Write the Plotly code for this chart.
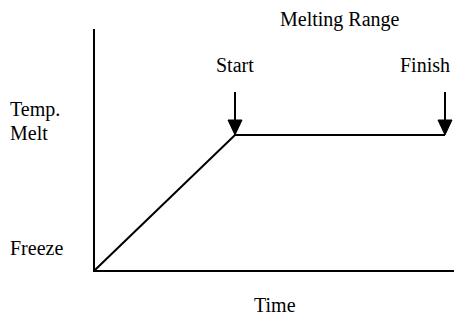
import plotly.graph_objects as go

# ---- data ----
time = [0.0, 1.0, 2.5]          # heating curve time points
temp = [0.0, 1.0, 1.0]          # 0 = Freeze, 1 = Melt
event_labels = ["Start", "Finish"]
event_times = [1.0, 2.5]
y_labels = ["Freeze", "Temp.", "Melt"]

# ---- layout geometry (pixels) ----
W, H = 454, 315
L, B, T = 95, 45, 29          # plot-area margins
PX_X = 140.0                   # pixels per time unit
PX_Y = 135.0                   # pixels per temp unit
PW, PH = W - L, H - B - T
x_max = PW / PX_X
y_max = PH / PX_Y

def px_paper(px):
    return (px - L) / PW

def py_paper(py):
    return (H - B - py) / PH

FONT = dict(family="Liberation Serif", size=20, color="black")

fig = go.Figure()

# heating curve
fig.add_trace(go.Scatter(x=time, y=temp, mode="lines",
                         line=dict(color="black", width=2),
                         hoverinfo="skip", cliponaxis=False))

# arrows marking start / finish of melting range
melt_level = temp[-1]
shaft_len = 43 / PX_Y
head_len = 15 / PX_Y
head_half = 7 / PX_X
for et in event_times:
    fig.add_trace(go.Scatter(x=[et, et], y=[melt_level + shaft_len, melt_level + head_len],
                             mode="lines", line=dict(color="black", width=2),
                             hoverinfo="skip", cliponaxis=False))
    fig.add_trace(go.Scatter(x=[et - head_half, et + head_half, et, et - head_half],
                             y=[melt_level + head_len, melt_level + head_len, melt_level, melt_level + head_len],
                             mode="lines", fill="toself", fillcolor="black",
                             line=dict(color="black", width=1),
                             hoverinfo="skip", cliponaxis=False))

def ann(x, y, text, xanchor):
    return dict(x=x, y=y, xref="paper", yref="paper", text=text, showarrow=False,
                xanchor=xanchor, yanchor="middle", font=FONT)

start_px = L + event_times[0] * PX_X
mid_px = L + sum(event_times) / 2 * PX_X
annotations = [
    ann(px_paper(start_px), py_paper(64.5), event_labels[0], "center"),
    ann(px_paper(452), py_paper(64.5), event_labels[1], "right"),
    ann(px_paper(mid_px), py_paper(19.5), "Melting Range", "center"),
    ann(px_paper(8), py_paper(248), y_labels[0], "left"),
    ann(px_paper(8), py_paper(109.5), y_labels[1], "left"),
    ann(px_paper(8), py_paper(133), y_labels[2], "left"),
    ann(0.5, py_paper(304.5), "Time", "center"),
]

fig.update_layout(
    width=W, height=H,
    margin=dict(l=L, r=0, t=T, b=B),
    paper_bgcolor="white", plot_bgcolor="white",
    showlegend=False,
    font=FONT,
    annotations=annotations,
    xaxis=dict(range=[0, x_max], showline=True, linecolor="black", linewidth=2,
               showgrid=False, zeroline=False, showticklabels=False, ticks="",
               fixedrange=True),
    yaxis=dict(range=[0, y_max], showline=True, linecolor="black", linewidth=2,
               showgrid=False, zeroline=False, showticklabels=False, ticks="",
               fixedrange=True),
)

fig.write_html("out.html", config={"displayModeBar": False},
               post_script="document.body.style.margin='0';document.body.style.overflow='hidden';")
